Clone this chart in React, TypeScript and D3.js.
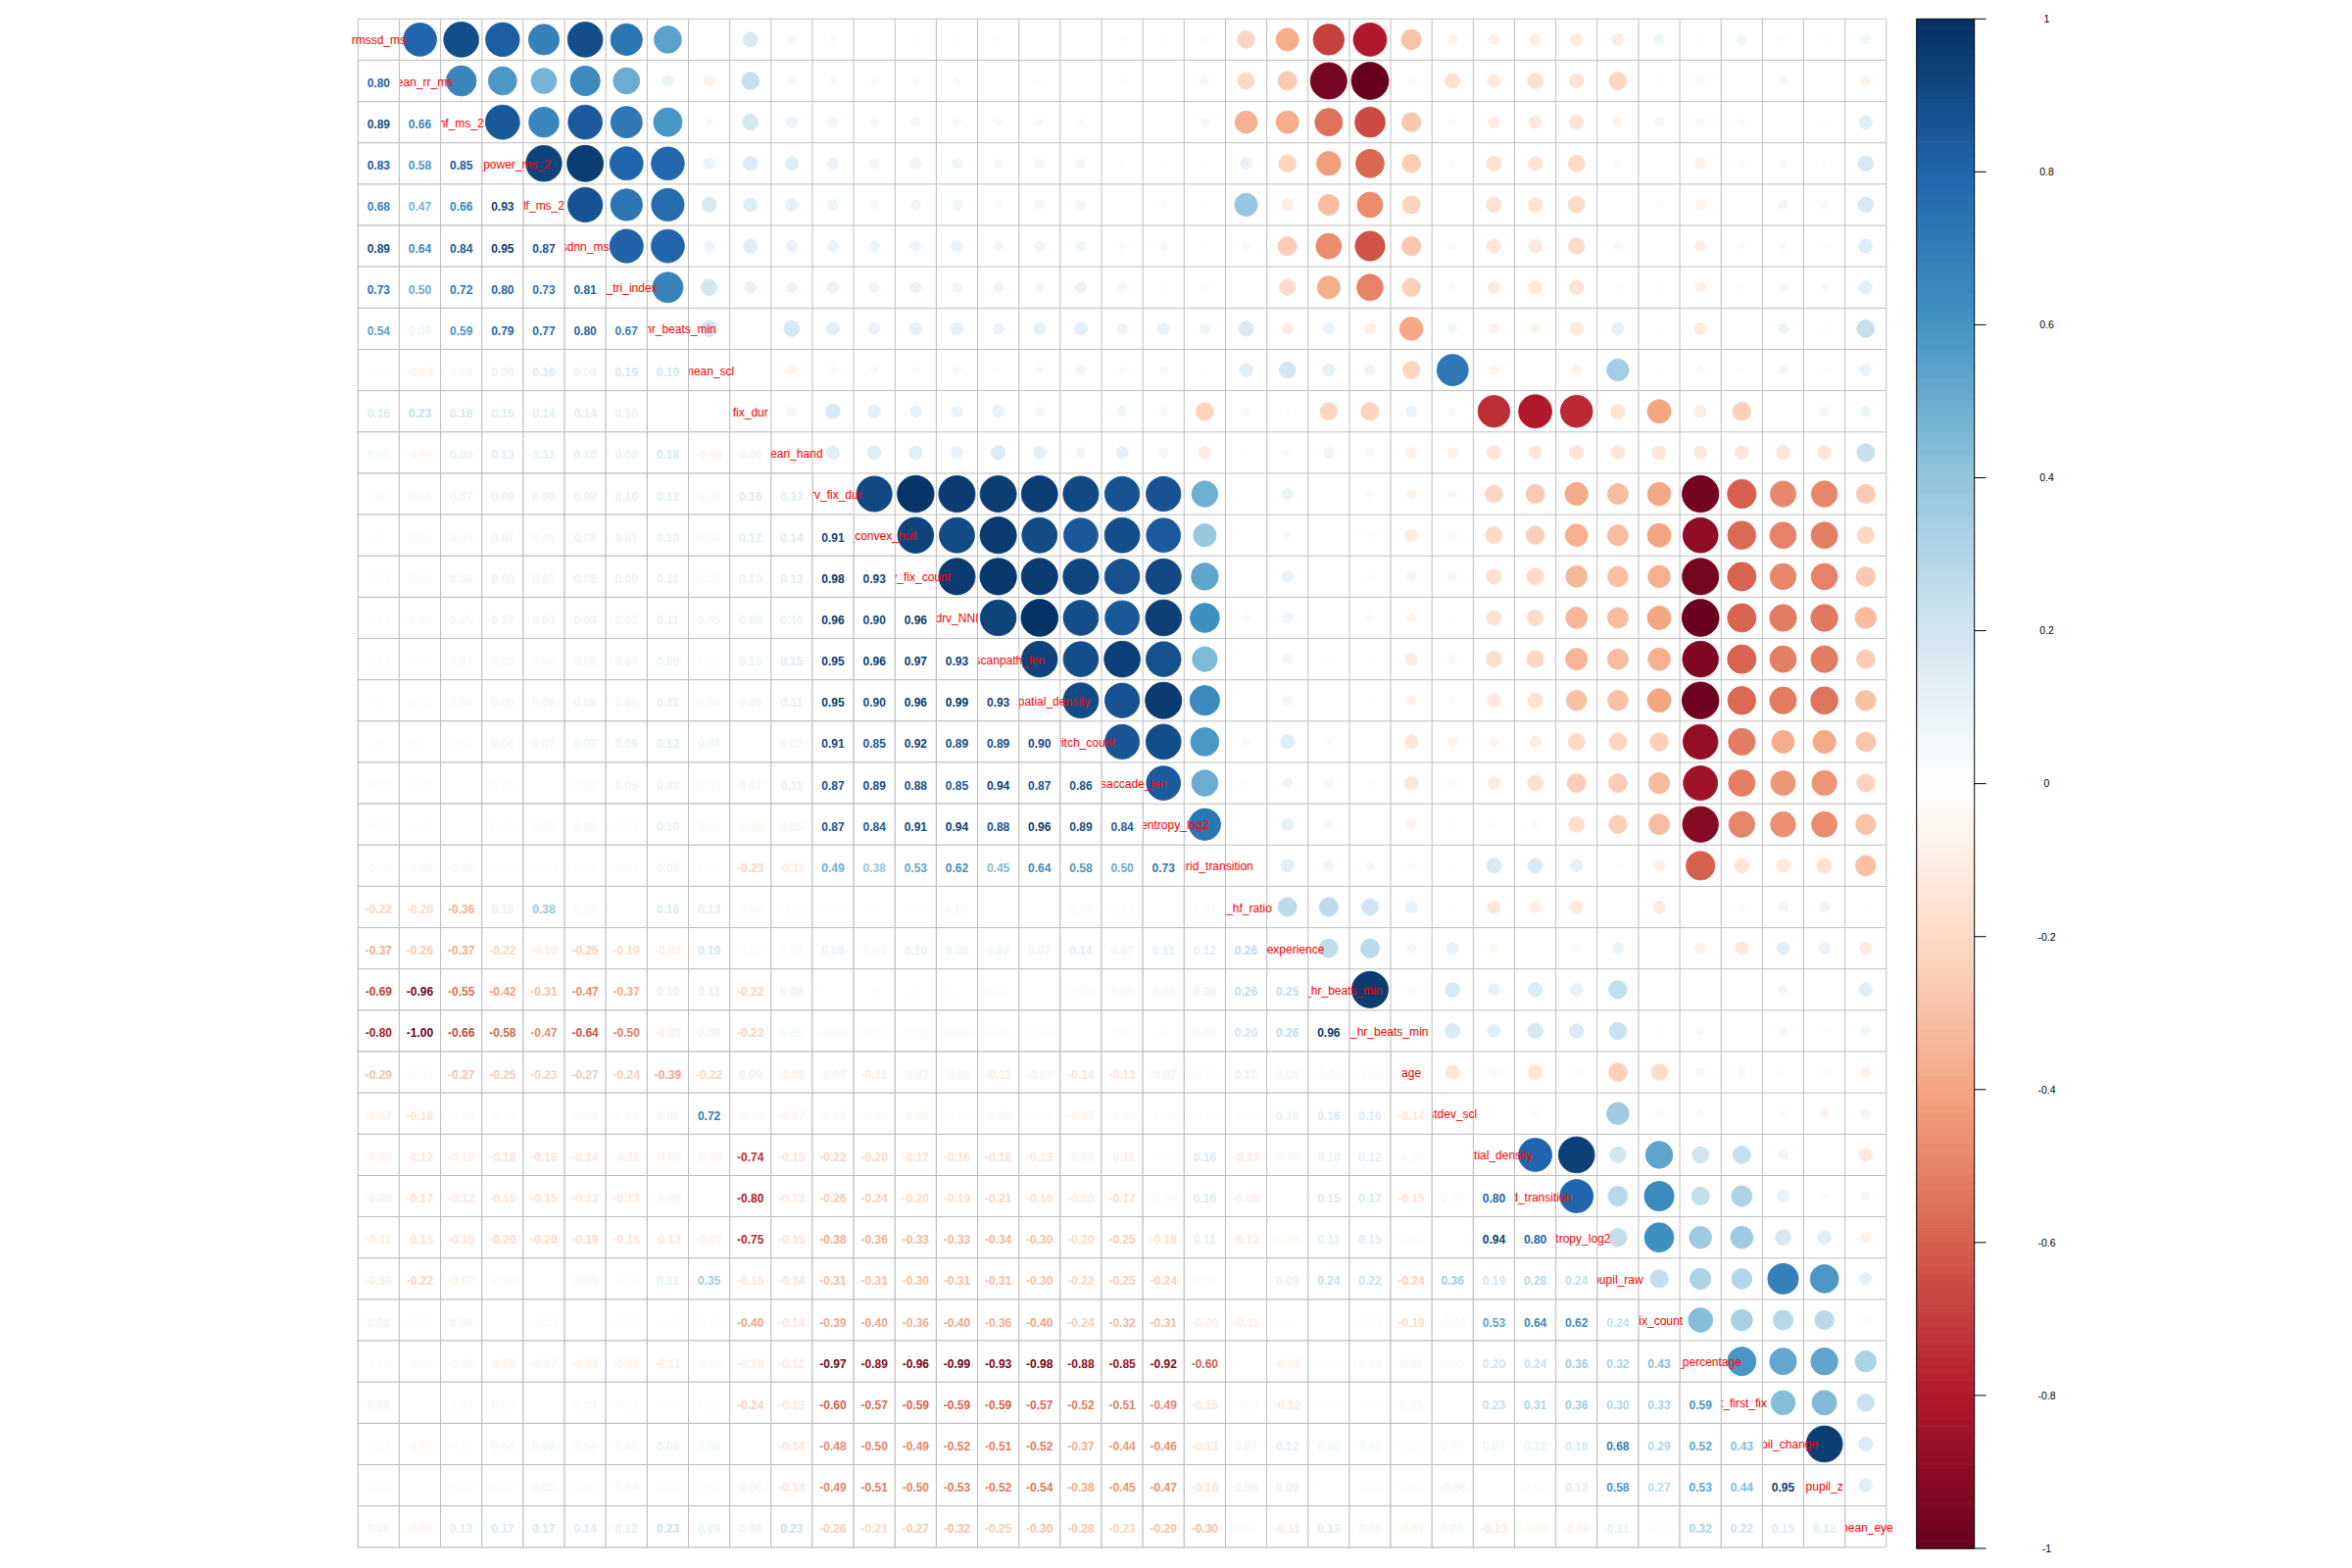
import * as d3 from "d3";
import React, { useEffect, useRef } from "react";

// variable names in plot order (diagonal labels)
const varNames = [
  "rmssd_ms", "mean_rr_ms", "hf_ms_2", "total_power_ms_2", "lf_ms_2", "sdnn_ms",
  "hr_tri_index", "avg_hr_beats_min", "mean_scl", "fix_dur", "mean_hand", "drv_fix_dur",
  "drv_convex_hull", "drv_fix_count", "drv_NNI", "drv_scanpath_len", "drv_spatial_density",
  "switch_count", "drv_saccade_len", "drv_entropy_log2", "drv_grid_transition", "lf_hf_ratio",
  "vr_experience", "mean_hr_beats_min", "median_hr_beats_min", "age", "stdev_scl",
  "spatial_density", "grid_transition", "entropy_log2", "pupil_raw", "fix_count",
  "drv_percentage", "tt_first_fix", "pupil_change", "pupil_z", "mean_eye",
];

// lower triangle of the correlation matrix, row i holds columns 0..i-1
const lowerRows: number[][] = [
  [],
  [0.80],
  [0.89, 0.66],
  [0.83, 0.58, 0.85],
  [0.68, 0.47, 0.66, 0.93],
  [0.89, 0.64, 0.84, 0.95, 0.87],
  [0.73, 0.50, 0.72, 0.80, 0.73, 0.81],
  [0.54, 0.09, 0.59, 0.79, 0.77, 0.80, 0.67],
  [0.01, -0.08, 0.04, 0.09, 0.16, 0.08, 0.19, 0.19],
  [0.16, 0.23, 0.18, 0.15, 0.14, 0.14, 0.10, 0.00, 0.00],
  [0.05, -0.05, 0.09, 0.13, 0.11, 0.10, 0.08, 0.18, -0.06, 0.06],
  [0.03, 0.04, 0.07, 0.09, 0.08, 0.09, 0.10, 0.12, 0.04, 0.16, 0.13],
  [0.01, 0.03, 0.05, 0.07, 0.05, 0.08, 0.07, 0.10, 0.04, 0.12, 0.14, 0.91],
  [0.02, 0.03, 0.06, 0.08, 0.07, 0.08, 0.09, 0.11, 0.03, 0.10, 0.13, 0.98, 0.93],
  [0.02, 0.04, 0.05, 0.07, 0.07, 0.09, 0.07, 0.11, 0.05, 0.09, 0.10, 0.96, 0.90, 0.96],
  [0.02, 0.01, 0.04, 0.05, 0.04, 0.06, 0.07, 0.09, 0.02, 0.10, 0.15, 0.95, 0.96, 0.97, 0.93],
  [0.01, 0.02, 0.04, 0.06, 0.06, 0.08, 0.06, 0.11, 0.04, 0.06, 0.11, 0.95, 0.90, 0.96, 0.99, 0.93],
  [0.01, 0.01, 0.03, 0.06, 0.07, 0.07, 0.09, 0.12, 0.07, 0.01, 0.07, 0.91, 0.85, 0.92, 0.89, 0.89, 0.90],
  [-0.02, -0.02, 0.00, 0.02, 0.00, 0.03, 0.06, 0.08, 0.03, 0.07, 0.11, 0.87, 0.89, 0.88, 0.85, 0.94, 0.87, 0.86],
  [-0.02, -0.01, 0.00, 0.02, 0.03, 0.05, 0.02, 0.10, 0.04, -0.05, 0.06, 0.87, 0.84, 0.91, 0.94, 0.88, 0.96, 0.89, 0.84],
  [-0.03, -0.05, -0.05, -0.01, -0.02, 0.02, -0.03, 0.08, 0.02, -0.23, -0.11, 0.49, 0.38, 0.53, 0.62, 0.45, 0.64, 0.58, 0.50, 0.73],
  [-0.22, -0.20, -0.36, 0.10, 0.38, 0.04, 0.00, 0.16, 0.13, 0.04, -0.02, 0.01, 0.01, 0.01, 0.04, 0.00, 0.00, 0.04, 0.02, 0.00, 0.03],
  [-0.37, -0.26, -0.37, -0.22, -0.10, -0.25, -0.19, -0.09, 0.19, -0.02, 0.03, 0.09, 0.04, 0.10, 0.08, 0.07, 0.07, 0.14, 0.07, 0.11, 0.12, 0.26],
  [-0.69, -0.96, -0.55, -0.42, -0.31, -0.47, -0.37, 0.10, 0.11, -0.22, 0.08, 0.00, 0.01, 0.01, 0.01, 0.02, 0.01, 0.03, 0.05, 0.05, 0.08, 0.26, 0.25],
  [-0.80, -1.00, -0.66, -0.58, -0.47, -0.64, -0.50, -0.09, 0.08, -0.23, 0.05, -0.04, -0.03, -0.03, -0.04, -0.01, -0.02, 0.00, 0.02, 0.01, 0.05, 0.20, 0.26, 0.96],
  [-0.29, -0.03, -0.27, -0.25, -0.23, -0.27, -0.24, -0.39, -0.22, 0.09, -0.08, -0.07, -0.11, -0.07, -0.06, -0.11, -0.07, -0.14, -0.13, -0.07, -0.03, 0.10, 0.06, -0.04, -0.03],
  [-0.07, -0.16, -0.03, -0.03, 0.00, -0.04, 0.03, 0.06, 0.72, -0.04, -0.07, -0.05, -0.04, -0.05, -0.02, -0.05, -0.03, -0.07, -0.04, -0.02, -0.02, 0.02, 0.10, 0.16, 0.16, -0.14],
  [-0.08, -0.12, -0.10, -0.16, -0.16, -0.14, -0.11, -0.08, -0.06, -0.74, -0.15, -0.22, -0.20, -0.17, -0.16, -0.18, -0.13, -0.06, -0.11, -0.02, 0.16, -0.13, -0.05, 0.10, 0.12, -0.04, 0.00],
  [-0.09, -0.17, -0.12, -0.15, -0.15, -0.13, -0.13, -0.06, 0.00, -0.80, -0.13, -0.26, -0.24, -0.20, -0.19, -0.21, -0.16, -0.10, -0.17, -0.04, 0.16, -0.09, 0.00, 0.15, 0.17, -0.15, 0.03, 0.80],
  [-0.11, -0.15, -0.15, -0.20, -0.20, -0.19, -0.15, -0.13, -0.07, -0.75, -0.15, -0.38, -0.36, -0.33, -0.33, -0.34, -0.30, -0.20, -0.25, -0.18, 0.11, -0.12, -0.04, 0.11, 0.15, -0.03, 0.00, 0.94, 0.80],
  [-0.10, -0.22, -0.07, -0.04, 0.00, -0.05, -0.02, 0.11, 0.35, -0.15, -0.14, -0.31, -0.31, -0.30, -0.31, -0.31, -0.30, -0.22, -0.25, -0.24, 0.02, 0.00, 0.09, 0.24, 0.22, -0.24, 0.36, 0.19, 0.28, 0.24],
  [0.08, -0.02, 0.06, 0.00, -0.03, 0.00, -0.02, -0.01, -0.02, -0.40, -0.14, -0.39, -0.40, -0.36, -0.40, -0.36, -0.40, -0.24, -0.32, -0.31, -0.09, -0.11, 0.01, 0.00, 0.02, -0.19, -0.04, 0.53, 0.64, 0.62, 0.24],
  [-0.02, -0.04, -0.05, -0.08, -0.07, -0.09, -0.08, -0.11, -0.04, -0.10, -0.12, -0.97, -0.89, -0.96, -0.99, -0.93, -0.98, -0.88, -0.85, -0.92, -0.60, 0.00, -0.08, 0.01, 0.04, 0.05, 0.03, 0.20, 0.24, 0.36, 0.32, 0.43],
  [0.06, 0.00, 0.03, 0.03, 0.00, 0.03, -0.02, 0.01, 0.02, -0.24, -0.13, -0.60, -0.57, -0.59, -0.59, -0.59, -0.57, -0.52, -0.51, -0.49, -0.15, -0.03, -0.12, 0.01, 0.01, 0.05, 0.00, 0.23, 0.31, 0.36, 0.30, 0.33, 0.59],
  [0.02, -0.05, -0.01, 0.04, 0.06, 0.04, 0.05, 0.08, 0.06, 0.00, -0.14, -0.48, -0.50, -0.49, -0.52, -0.51, -0.52, -0.37, -0.44, -0.46, -0.13, 0.07, 0.12, 0.06, 0.05, -0.02, 0.03, 0.07, 0.10, 0.18, 0.68, 0.29, 0.52, 0.43],
  [0.02, 0.00, -0.02, 0.02, 0.05, 0.02, 0.04, 0.02, 0.02, 0.06, -0.14, -0.49, -0.51, -0.50, -0.53, -0.52, -0.54, -0.38, -0.45, -0.47, -0.16, 0.08, 0.09, 0.01, 0.02, -0.03, -0.06, 0.00, 0.03, 0.13, 0.58, 0.27, 0.53, 0.44, 0.95],
  [0.06, -0.06, 0.13, 0.17, 0.17, 0.14, 0.12, 0.23, 0.09, 0.08, 0.23, -0.26, -0.21, -0.27, -0.32, -0.25, -0.30, -0.28, -0.23, -0.29, -0.30, 0.02, -0.11, 0.13, 0.06, -0.07, 0.06, -0.13, -0.05, -0.08, 0.11, -0.03, 0.32, 0.22, 0.15, 0.13],
];

// RdBu diverging palette stops, -1 .. 1
const palette = [
  "#67001F", "#B2182B", "#D6604D", "#F4A582", "#FDDBC7", "#FFFFFF",
  "#D1E5F0", "#92C5DE", "#4393C3", "#2166AC", "#053061",
];

const legendTicks = [1, 0.8, 0.6, 0.4, 0.2, 0, -0.2, -0.4, -0.6, -0.8, -1];

const App: React.FC = () => {
  const svgRef = useRef<SVGSVGElement | null>(null);

  useEffect(() => {
    const n = varNames.length;
    const left = 365.3;
    const top = 19.3;
    const cell = 42.15;

    const corr = (i: number, j: number) =>
      i === j ? 1 : i > j ? lowerRows[i][j] : lowerRows[j][i];

    const x = d3.scaleBand<number>().domain(d3.range(n)).range([left, left + n * cell]);
    const y = d3.scaleBand<number>().domain(d3.range(n)).range([top, top + n * cell]);
    const color = d3
      .scaleLinear<string>()
      .domain(palette.map((_, k) => -1 + k * 0.2))
      .range(palette)
      .clamp(true);

    const svg = d3.select(svgRef.current);
    svg.selectAll("*").remove();
    svg.append("rect").attr("width", 2400).attr("height", 1600).attr("fill", "white");

    const cells: { i: number; j: number; r: number }[] = [];
    d3.range(n).forEach((i) => d3.range(n).forEach((j) => cells.push({ i, j, r: corr(i, j) })));

    // grid for the whole matrix
    const grid = svg.append("g").attr("stroke", "#BEBEBE").attr("stroke-width", 1);
    d3.range(n + 1).forEach((k) => {
      const p = left + k * cell;
      grid.append("line").attr("x1", p).attr("x2", p).attr("y1", top).attr("y2", top + n * cell);
      const q = top + k * cell;
      grid.append("line").attr("x1", left).attr("x2", left + n * cell).attr("y1", q).attr("y2", q);
    });

    // upper triangle: circles, area ~ |r|
    svg
      .append("g")
      .selectAll("circle")
      .data(cells.filter((d) => d.j > d.i))
      .join("circle")
      .attr("cx", (d) => x(d.j)! + cell / 2)
      .attr("cy", (d) => y(d.i)! + cell / 2)
      .attr("r", (d) => 0.45 * Math.sqrt(Math.abs(d.r)) * cell)
      .attr("fill", (d) => color(d.r))
      .attr("stroke", (d) => color(d.r))
      .attr("stroke-width", 0.8);

    // diagonal labels
    svg
      .append("g")
      .selectAll("text")
      .data(varNames)
      .join("text")
      .attr("x", (_, i) => x(i)! + cell / 2)
      .attr("y", (_, i) => y(i)! + cell / 2 + 5)
      .attr("text-anchor", "middle")
      .attr("fill", "#FF0000")
      .style("font-family", "'Liberation Sans', Arial, sans-serif")
      .style("font-size", "12px")
      .text((d) => d);

    // lower triangle: numbers on white cells (they hide the label overflow)
    const lower = svg.append("g").selectAll("g").data(cells.filter((d) => d.j < d.i)).join("g");
    lower
      .append("rect")
      .attr("x", (d) => x(d.j)!)
      .attr("y", (d) => y(d.i)!)
      .attr("width", cell)
      .attr("height", cell)
      .attr("fill", "white")
      .attr("stroke", "#BEBEBE")
      .attr("stroke-width", 1);
    lower
      .append("text")
      .attr("x", (d) => x(d.j)! + cell / 2)
      .attr("y", (d) => y(d.i)! + cell / 2 + 6.5)
      .attr("text-anchor", "middle")
      .attr("fill", (d) => color(d.r))
      .style("font-family", "'Liberation Sans', Arial, sans-serif")
      .style("font-size", "12px")
      .style("font-weight", "bold")
      .text((d) => d.r.toFixed(2));

    // colour legend
    const legY = d3.scaleLinear().domain([-1, 1]).range([1580, 19.3]);
    const legX0 = 1955.7;
    const legX1 = 2014.7;
    const steps = 200;
    const leg = svg.append("g");
    leg
      .selectAll("rect")
      .data(d3.range(steps))
      .join("rect")
      .attr("x", legX0)
      .attr("width", legX1 - legX0)
      .attr("y", (k) => legY(-1 + ((k + 1) * 2) / steps))
      .attr("height", (k) => legY(-1 + (k * 2) / steps) - legY(-1 + ((k + 1) * 2) / steps) + 0.6)
      .attr("fill", (k) => color(-1 + ((k + 0.5) * 2) / steps));
    leg
      .append("rect")
      .attr("x", legX0)
      .attr("y", legY(1))
      .attr("width", legX1 - legX0)
      .attr("height", legY(-1) - legY(1))
      .attr("fill", "none")
      .attr("stroke", "black")
      .attr("stroke-width", 1);
    leg
      .selectAll("line")
      .data(legendTicks)
      .join("line")
      .attr("x1", legX1)
      .attr("x2", legX1 + 12)
      .attr("y1", (d) => legY(d))
      .attr("y2", (d) => legY(d))
      .attr("stroke", "black");
    leg
      .selectAll("text")
      .data(legendTicks)
      .join("text")
      .attr("x", 2088.5)
      .attr("y", (d) => legY(d) + 3.8)
      .attr("text-anchor", "middle")
      .style("font-family", "'Liberation Sans', Arial, sans-serif")
      .style("font-size", "10.5px")
      .text((d) => String(d));
  }, []);

  return (
    <svg
      ref={svgRef}
      width={2400}
      height={1600}
      style={{ position: "absolute", left: 0, top: 0 }}
    ></svg>
  );
};

export default App;
